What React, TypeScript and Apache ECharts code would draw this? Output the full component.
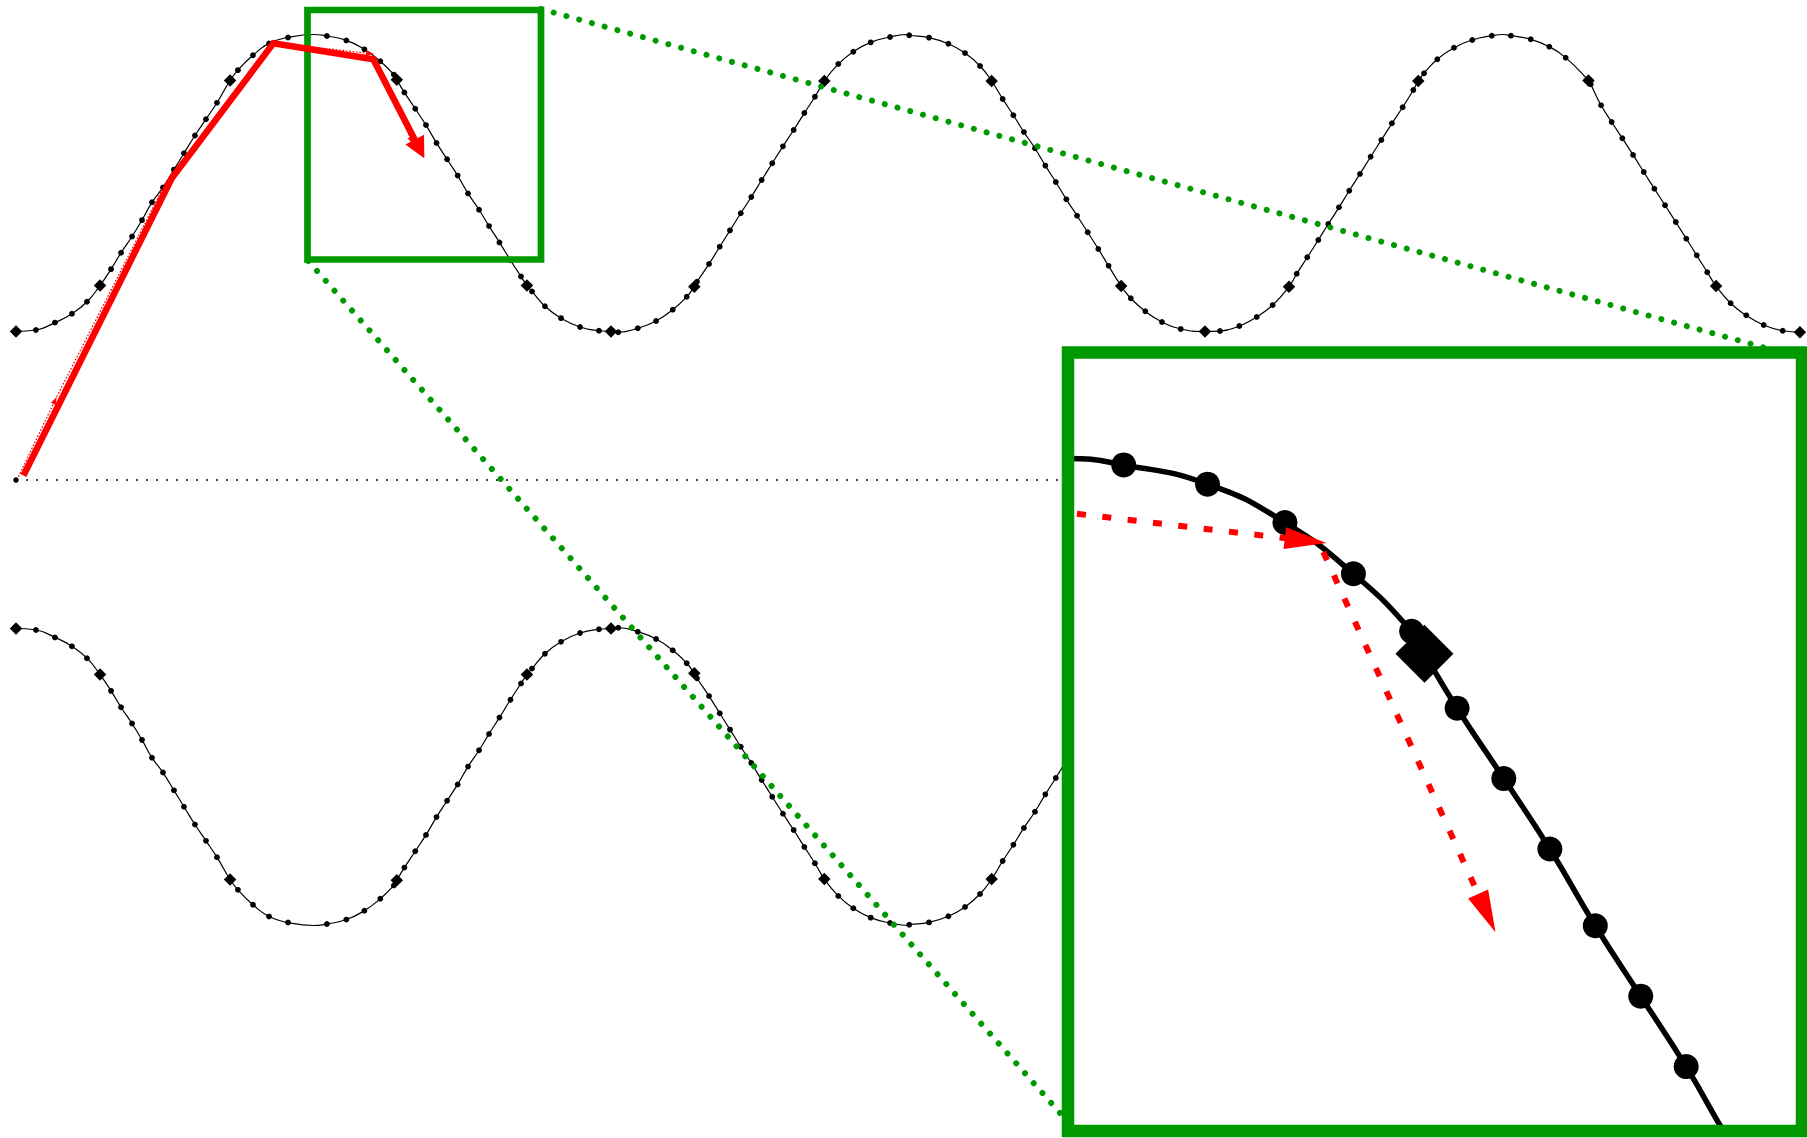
import React, { useEffect, useRef } from 'react';
import * as echarts from 'echarts';

// ---------------- data (data units: one period = 4 along x; upper curve between y=1 and y=3; dotted axis at y=0) ----------------
// small dot markers along the upper curve
const upperDots: number[][] = [
  [0.134, 1.01], [0.262, 1.06], [0.376, 1.12], [0.477, 1.2], [0.639, 1.42], [0.706, 1.53], [0.78, 1.64], [0.847, 1.75],
  [0.914, 1.87], [0.988, 1.97], [1.062, 2.09], [1.129, 2.2], [1.203, 2.32], [1.277, 2.43], [1.351, 2.54], [1.492, 2.76],
  [1.593, 2.86], [1.701, 2.94], [1.829, 2.98], [2.09, 2.99], [2.221, 2.96], [2.342, 2.9], [2.449, 2.82], [2.54, 2.73],
  [2.611, 2.61], [2.684, 2.5], [2.756, 2.39], [2.827, 2.27], [2.898, 2.16], [2.969, 2.05], [3.039, 1.93], [3.113, 1.82],
  [3.18, 1.71], [3.25, 1.6], [3.324, 1.48], [3.395, 1.37], [3.469, 1.27], [3.556, 1.17], [3.664, 1.09], [3.792, 1.03],
  [3.919, 1.005],
  [4.049, 0.995], [4.18, 1.022], [4.303, 1.071], [4.415, 1.147], [4.509, 1.234], [4.578, 1.335], [4.659, 1.455],
  [4.731, 1.571], [4.8, 1.681], [4.872, 1.796], [4.943, 1.906], [5.013, 2.02], [5.084, 2.133], [5.156, 2.247],
  [5.228, 2.357], [5.3, 2.471], [5.371, 2.581], [5.528, 2.801], [5.629, 2.884], [5.746, 2.947], [5.876, 2.983],
  [6.005, 2.995], [6.138, 2.979], [6.268, 2.938], [6.38, 2.875], [6.481, 2.788], [6.633, 2.566], [6.705, 2.456],
  [6.776, 2.343], [6.85, 2.234], [6.92, 2.117], [6.99, 2.007], [7.061, 1.89], [7.133, 1.78], [7.205, 1.668],
  [7.276, 1.556], [7.345, 1.442], [7.494, 1.224], [7.592, 1.136], [7.704, 1.064], [7.83, 1.017],
  [8.094, 1.003], [8.224, 1.037], [8.341, 1.098], [8.448, 1.178], [8.61, 1.389], [8.681, 1.5], [8.755, 1.616],
  [8.822, 1.724], [8.894, 1.836], [8.963, 1.948], [9.035, 2.061], [9.107, 2.177], [9.179, 2.29], [9.25, 2.402],
  [9.322, 2.51], [9.394, 2.626], [9.466, 2.739], [9.555, 2.833], [9.667, 2.911], [9.79, 2.963], [9.921, 2.992],
  [10.05, 2.992], [10.183, 2.968], [10.308, 2.918], [10.418, 2.844], [10.586, 2.665], [10.656, 2.523], [10.727, 2.411],
  [10.799, 2.301], [10.871, 2.189], [10.943, 2.074], [11.014, 1.962], [11.086, 1.85], [11.158, 1.737], [11.229, 1.625],
  [11.299, 1.513], [11.37, 1.399], [11.527, 1.19], [11.632, 1.109], [11.749, 1.044], [11.877, 1.005],
];
// diamond markers along the upper curve
const upperDiamonds: number[][] = [
  [0, 1.0], [0.565, 1.31], [1.439, 2.69], [2.56, 2.695], [3.435, 1.31],
  [4.0, 1.0], [4.56, 1.302], [5.434, 2.687], [6.559, 2.687], [7.43, 1.306],
  [7.993, 1.0], [8.558, 1.302], [9.427, 2.687], [10.571, 2.69], [11.429, 1.306], [11.993, 0.995],
];
// tops of the upper curve (no marker there)
const upperPeaks: number[][] = [[2.0, 3.0], [6.0, 3.0], [10.0, 3.0]];
// dotted horizontal axis and its start point
const axisLine: number[][] = [[0, 0], [12, 0]];
const axisStart: number[][] = [[0, 0]];
// thick red polyline ending with an arrow
const thickPath: number[][][] = [[[0.05, 0.03], [1.047, 2.032], [1.73, 2.941], [2.402, 2.833], [2.745, 2.166]]];
const thickArrows: boolean[] = [true];
// thin red path, made of segments (some end with an arrow)
const thinPaths: number[][][] = [
  [[0.016, 0.022], [0.274, 0.561]],
  [[0.274, 0.561], [1.01, 2.01]],
  [[1.01, 2.01], [1.74, 2.946]],
  [[1.74, 2.946], [2.407, 2.868]],
  [[2.402, 2.854], [2.671, 2.26]],
];
const thinArrows: boolean[] = [true, false, false, true, true];

// lower curve is the mirror image of the upper curve about the dotted axis
const lowerDots = upperDots.map(([x, y]) => [x, -y]);
const lowerDiamonds = upperDiamonds.map(([x, y]) => [x, -y]);
const lowerPeaks = upperPeaks.map(([x, y]) => [x, -y]);
const byX = (a: number[], b: number[]) => a[0] - b[0];
const upperCurve = [...upperDots, ...upperDiamonds, ...upperPeaks].sort(byX);
const lowerCurve = [...lowerDots, ...lowerDiamonds, ...lowerPeaks].sort(byX);

// ---------------- layout & style ----------------
const GREEN = '#009900';
const RED = '#ff0000';
const MAIN = { left: 0, top: 0, width: 1807, height: 1138, xMin: -0.1076, xMax: 12.0403, yMin: -4.431, yMax: 3.2323 };
const INSET = { left: 1068, top: 352.6, width: 734, height: 778.4, xMin: 2.003, xMax: 3.15, yMin: 1.9494, yMax: 3.1655 };

function segmentSeries(o: any) {
  const { paths, arrows, xAxisIndex, yAxisIndex, width, dash, arrowLen, arrowHalf, z, clip } = o;
  return {
    type: 'custom',
    coordinateSystem: 'cartesian2d',
    xAxisIndex,
    yAxisIndex,
    z,
    clip,
    silent: true,
    data: paths.map((p: number[][]) => [p[0][0], p[0][1]]),
    encode: { x: 0, y: 1 },
    renderItem: (params: any, api: any) => {
      const i = params.dataIndex;
      const pts = paths[i].map((p: number[]) => api.coord(p));
      const line = pts.map((p: number[]) => [p[0], p[1]]);
      const children: any[] = [];
      if (arrows[i]) {
        const n = pts.length;
        const [x1, y1] = pts[n - 2];
        const [x2, y2] = pts[n - 1];
        const L = Math.hypot(x2 - x1, y2 - y1) || 1;
        const ux = (x2 - x1) / L;
        const uy = (y2 - y1) / L;
        const bx = x2 - ux * arrowLen;
        const by = y2 - uy * arrowLen;
        line[n - 1] = [x2 - ux * arrowLen * 0.7, y2 - uy * arrowLen * 0.7];
        children.push({
          type: 'polygon',
          z2: 2,
          shape: { points: [[x2, y2], [bx - uy * arrowHalf, by + ux * arrowHalf], [bx + uy * arrowHalf, by - ux * arrowHalf]] },
          style: { fill: RED, stroke: 'none' },
        });
      }
      children.unshift({
        type: 'polyline',
        z2: 1,
        shape: { points: line },
        style: { stroke: RED, lineWidth: width, lineDash: dash, fill: 'none', lineJoin: 'miter', lineCap: 'butt' },
      });
      return { type: 'group', children };
    },
  };
}

const black = { color: '#000', opacity: 1 };

function buildOption() {
  const axisBase = { type: 'value', show: false, splitLine: { show: false } };
  return {
    animation: false,
    backgroundColor: '#ffffff',
    grid: [
      { left: MAIN.left, top: MAIN.top, width: MAIN.width, height: MAIN.height, containLabel: false },
      { left: INSET.left, top: INSET.top, width: INSET.width, height: INSET.height, containLabel: false },
    ],
    xAxis: [
      { ...axisBase, gridIndex: 0, min: MAIN.xMin, max: MAIN.xMax },
      { ...axisBase, gridIndex: 1, min: INSET.xMin, max: INSET.xMax },
    ],
    yAxis: [
      { ...axisBase, gridIndex: 0, min: MAIN.yMin, max: MAIN.yMax },
      { ...axisBase, gridIndex: 1, min: INSET.yMin, max: INSET.yMax },
    ],
    graphic: [
      // small zoom window
      { type: 'rect', z: 3, silent: true, shape: { x: 307.5, y: 10, width: 233.5, height: 249.5 }, style: { fill: 'none', stroke: GREEN, lineWidth: 6.7 } },
      // connectors
      { type: 'line', z: 3, silent: true, shape: { x1: 541, y1: 9, x2: 1802, y2: 358 }, style: { stroke: GREEN, lineWidth: 6, lineDash: [0.01, 13.2], lineCap: 'round' } },
      { type: 'line', z: 3, silent: true, shape: { x1: 308.3, y1: 261, x2: 1068, y2: 1122 }, style: { stroke: GREEN, lineWidth: 6, lineDash: [0.01, 13.2], lineCap: 'round' } },
      // inset background and frame
      { type: 'rect', z: 6, silent: true, shape: { x: INSET.left, y: INSET.top, width: INSET.width, height: INSET.height }, style: { fill: '#ffffff', stroke: 'none' } },
      { type: 'rect', z: 11, silent: true, shape: { x: INSET.left, y: INSET.top, width: INSET.width, height: INSET.height }, style: { fill: 'none', stroke: GREEN, lineWidth: 12.5 } },
    ],
    series: [
      // ---- main view ----
      { type: 'line', xAxisIndex: 0, yAxisIndex: 0, z: 2, data: axisLine, symbol: 'none', silent: true, lineStyle: { color: '#000', width: 1.3, type: [2, 8] } },
      { type: 'scatter', xAxisIndex: 0, yAxisIndex: 0, z: 2, data: axisStart, symbol: 'circle', symbolSize: 5.5, silent: true, itemStyle: black },
      { type: 'line', xAxisIndex: 0, yAxisIndex: 0, z: 2, data: upperCurve, smooth: true, symbol: 'none', silent: true, lineStyle: { color: '#000', width: 1.2 } },
      { type: 'line', xAxisIndex: 0, yAxisIndex: 0, z: 2, data: lowerCurve, smooth: true, symbol: 'none', silent: true, lineStyle: { color: '#000', width: 1.2 } },
      { type: 'scatter', xAxisIndex: 0, yAxisIndex: 0, z: 2, data: upperDots, symbol: 'circle', symbolSize: 5.8, silent: true, itemStyle: black },
      { type: 'scatter', xAxisIndex: 0, yAxisIndex: 0, z: 2, data: lowerDots, symbol: 'circle', symbolSize: 5.8, silent: true, itemStyle: black },
      { type: 'scatter', xAxisIndex: 0, yAxisIndex: 0, z: 2, data: upperDiamonds, symbol: 'diamond', symbolSize: 12.5, silent: true, itemStyle: black },
      { type: 'scatter', xAxisIndex: 0, yAxisIndex: 0, z: 2, data: lowerDiamonds, symbol: 'diamond', symbolSize: 12.5, silent: true, itemStyle: black },
      segmentSeries({ paths: thinPaths, arrows: thinArrows, xAxisIndex: 0, yAxisIndex: 0, width: 1.2, dash: [1.7, 1.7], arrowLen: 8, arrowHalf: 2.6, z: 4, clip: false }),
      segmentSeries({ paths: thickPath, arrows: thickArrows, xAxisIndex: 0, yAxisIndex: 0, width: 6.5, dash: null, arrowLen: 21, arrowHalf: 10.5, z: 5, clip: false }),
      // ---- inset (magnified view) ----
      { type: 'line', xAxisIndex: 1, yAxisIndex: 1, z: 7, clip: true, data: upperCurve, smooth: true, symbol: 'none', silent: true, lineStyle: { color: '#000', width: 5.5 } },
      { type: 'scatter', xAxisIndex: 1, yAxisIndex: 1, z: 8, clip: true, data: upperDots, symbol: 'circle', symbolSize: 25, silent: true, itemStyle: black },
      { type: 'scatter', xAxisIndex: 1, yAxisIndex: 1, z: 9, clip: true, data: upperDiamonds, symbol: 'diamond', symbolSize: 58, silent: true, itemStyle: black },
      segmentSeries({ paths: thinPaths, arrows: thinArrows, xAxisIndex: 1, yAxisIndex: 1, width: 6, dash: [9, 16.5], arrowLen: 42, arrowHalf: 11, z: 10, clip: true }),
    ],
  };
}

export default function App() {
  const ref = useRef<HTMLDivElement>(null);
  useEffect(() => {
    if (!ref.current) return;
    const chart = echarts.init(ref.current, null, { renderer: 'svg' });
    chart.setOption(buildOption() as any);
    return () => chart.dispose();
  }, []);
  return (
    <div
      ref={ref}
      style={{ position: 'absolute', left: 0, top: 0, width: 1807, height: 1138, background: '#ffffff' }}
    />
  );
}
